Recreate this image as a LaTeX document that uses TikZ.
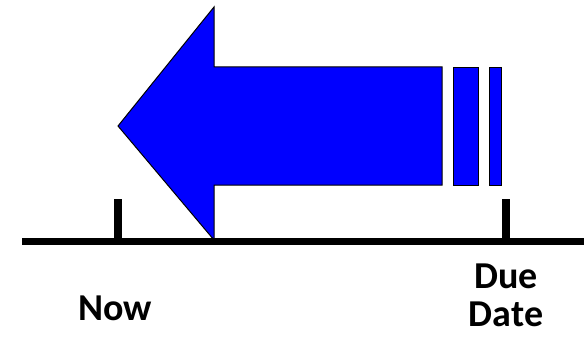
\documentclass[tikz,border=0pt]{standalone}
\usepackage{fontspec}
\setmainfont{Carlito}
\begin{document}
\begin{tikzpicture}[x=1pt,y=-1pt,
  blk/.style={fill={rgb,255:red,0;green,0;blue,255},draw=black,line width=1pt,line join=miter},
  axis/.style={line width=7pt,draw=black},
  tick/.style={line width=8pt,draw=black},
  lbl/.style={font=\fontsize{38}{40}\selectfont\bfseries,inner sep=0pt,anchor=base}]
\useasboundingbox (0,0) rectangle (584,337);
\draw[blk] (118,126) -- (214,7) -- (214,67) -- (442,67) -- (442,185) -- (214,185) -- (214,240) -- cycle;
\node[blk,minimum width=25pt,minimum height=118pt,inner sep=0pt,anchor=north west] (b2) at (453,67) {};
\node[blk,minimum width=12pt,minimum height=118pt,inner sep=0pt,anchor=north west] (b3) at (489,67) {};
\coordinate (al) at (22,241);
\coordinate (ar) at (584,241);
\draw[axis] (al) -- (ar);
\coordinate (t1) at (118,199);
\coordinate (t1b) at (118,238);
\coordinate (t2) at (506,199);
\coordinate (t2b) at (506,238);
\draw[tick] (t1) -- (t1b);
\draw[tick] (t2) -- (t2b);
\node[lbl] (now) at (115,320) {Now};
\node[lbl] (due) at (506,288) {Due};
\node[lbl] (date) at (506,326) {Date};
\end{tikzpicture}
\end{document}
